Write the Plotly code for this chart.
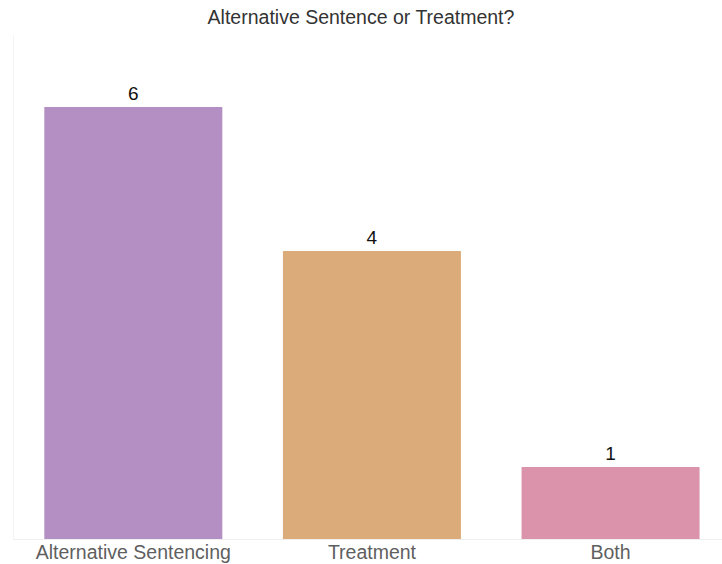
import plotly.graph_objects as go

categories = ["Alternative Sentencing", "Treatment", "Both"]
values = [6, 4, 1]
colors = ["#b48fc4", "#dcab7a", "#db93ac"]

fig = go.Figure(go.Bar(
    x=categories, y=values, marker_color=colors, marker_line_width=0,
    text=[str(v) for v in values], textposition="outside",
    textfont=dict(size=19, color="#111111", family="Liberation Sans, Arial"),
    width=0.746, cliponaxis=False,
))

fig.update_layout(
    width=722, height=564,
    margin=dict(l=14, r=0, t=35, b=25),
    paper_bgcolor="white", plot_bgcolor="white",
    title=dict(text="Alternative Sentence or Treatment?", x=0.5, xanchor="center",
               y=1 - 17/564, yanchor="middle",
               font=dict(size=19.5, color="#333333", family="Liberation Sans, Arial")),
    font=dict(family="Liberation Sans, Arial"),
    showlegend=False,
)
fig.update_xaxes(range=[-0.5, 2.467], showline=True, linecolor="#efefef", linewidth=1,
                 showgrid=False, ticks="", ticklabelstandoff=-4, automargin=False,
                 tickfont=dict(size=19.5, color="#5f5f5f"))
fig.update_yaxes(range=[0, 7], showline=True, linecolor="#f3f3f3", linewidth=1,
                 showgrid=False, zeroline=False, showticklabels=False, ticks="",
                 automargin=False)

fig.write_html("out.html")
